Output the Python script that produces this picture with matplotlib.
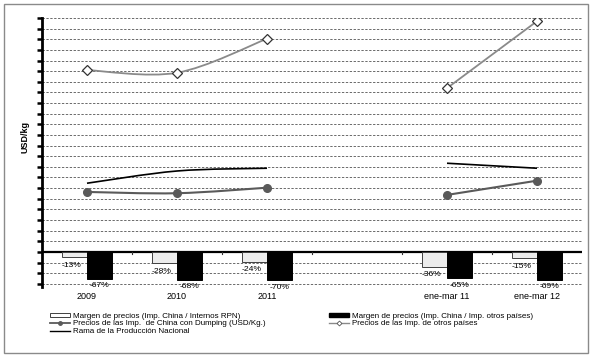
import numpy as np
import matplotlib
matplotlib.use("Agg")
import matplotlib.pyplot as plt
from matplotlib.patches import Patch, Rectangle, PathPatch
from matplotlib.lines import Line2D
from matplotlib.path import Path
from matplotlib import font_manager as fm
import matplotlib.transforms as mtransforms

# ---------------- data ----------------
categories = ["2009", "2010", "2011", "", "ene-mar 11", "ene-mar 12"]
margin_rpn = [-13, -28, -24, np.nan, -36, -15]          # % (Imp. China / Internos RPN)
margin_otros = [-67, -68, -70, np.nan, -65, -69]        # % (Imp. China / Imp. otros países)
precio_china = [5.64, 5.52, 6.04, np.nan, 5.36, 6.70]   # USD/kg
precio_otros = [17.1, 16.85, 20.05, np.nan, 15.4, 21.7] # USD/kg
rama_nacional = [6.46, 7.61, 7.87, np.nan, 8.34, 7.87]  # USD/kg

legend_labels = [
    "Margen de precios (Imp. China / Internos RPN)",
    "Precios de las Imp.  de China con Dumping (USD/Kg.)",
    "Rama de la Producción Nacional",
    "Margen de precios (Imp. China / Imp. otros países)",
    "Precios de las Imp. de otros países",
]

# ---------------- fonts ----------------
def pick(fams):
    for f in fams:
        try:
            fm.findfont(f, fallback_to_default=False)
            return f
        except Exception:
            pass
    return "DejaVu Sans"

FONT = pick(["Liberation Sans Narrow", "Liberation Sans", "Arial"])
plt.rcParams["font.family"] = [FONT, "DejaVu Sans"]

W, H = 592, 356
fig = plt.figure(figsize=(W / 100, H / 100), dpi=100)
fig.patch.set_facecolor("white")

# axes placement (pixels -> fractions)
left_px, right_px, top_px, bot_px = 42, 582, 18, 287
ax = fig.add_axes([left_px / W, 1 - bot_px / H, (right_px - left_px) / W, (bot_px - top_px) / H])
x = np.arange(len(categories))

ylo, yhi = -3.3, 22
ax.set_xlim(-0.5, len(categories) - 0.5)
ax.set_ylim(ylo, yhi)

# grid
for gy in range(-3, 23):
    ax.axhline(gy, color="#6a6a6a", lw=0.7, ls=(0, (2.4, 1.6)), zorder=0)

for s in ["top", "right", "bottom"]:
    ax.spines[s].set_visible(False)
ax.spines["left"].set_linewidth(2.0)
ax.spines["left"].set_color("black")
ax.set_yticks(np.arange(-3, 23))
ax.tick_params(axis="y", direction="out", length=3.8, width=1.8, labelleft=False, color="black")
ax.set_xticks([])

# zero line with boundary ticks
ax.axhline(0, color="black", lw=1.6, zorder=3)
for b in np.arange(-0.5, len(categories), 1.0)[1:-1]:
    ax.plot([b, b], [0, -0.15], color="#333333", lw=0.8, zorder=3)

# category labels
trans = mtransforms.blended_transform_factory(ax.transData, ax.transAxes)
for xi, c in zip(x, categories):
    ax.text(xi, -0.034, c, transform=trans, ha="center", va="center", fontsize=6.5)

# ---------- bars on twin axis (percent) ----------
ax2 = ax.twinx()
k = 26.05
ax2.set_ylim(ylo * k, yhi * k)
ax2.set_axis_off()
bw = 0.283
mr = np.array(margin_rpn, dtype=float)
mo = np.array(margin_otros, dtype=float)
ax2.bar(x - bw / 2, mr, width=bw, color="#ececec", edgecolor="#404040", linewidth=0.7, zorder=2)
ax2.bar(x + bw / 2, mo, width=bw, color="black", edgecolor="black", linewidth=0.7, zorder=2)
for xi, v in zip(x, mr):
    if not np.isnan(v):
        ax2.annotate(f"{v:.0f}%", (xi - bw / 2, v), xytext=(-2, -3.3), textcoords="offset points",
                     ha="center", va="top", fontsize=6.1)
for xi, v in zip(x, mo):
    if not np.isnan(v):
        ax2.annotate(f"{v:.0f}%", (xi + bw / 2, v), xytext=(0, -2.3), textcoords="offset points",
                     ha="center", va="top", fontsize=6.1)

# ---------- lines (smoothed like Excel) ----------
def smooth_segments(xs, ys):
    xs = np.asarray(xs, float); ys = np.asarray(ys, float)
    paths = []
    seg = []
    for xv, yv in zip(xs, ys):
        if np.isnan(yv):
            if seg:
                paths.append(seg); seg = []
        else:
            seg.append((xv, yv))
    if seg:
        paths.append(seg)
    out = []
    for s in paths:
        P = np.array(s)
        if len(P) < 2:
            continue
        verts = [P[0]]
        codes = [Path.MOVETO]
        n = len(P)
        for i in range(n - 1):
            p0 = P[i - 1] if i > 0 else P[i]
            p1 = P[i]; p2 = P[i + 1]
            p3 = P[i + 2] if i + 2 < n else P[i + 1]
            c1 = p1 + (p2 - p0) / 6.0
            c2 = p2 - (p3 - p1) / 6.0
            verts += [c1, c2, p2]
            codes += [Path.CURVE4] * 3
        out.append(Path(verts, codes))
    return out

def draw_series(ys, color, lw, z):
    for p in smooth_segments(x, ys):
        ax.add_patch(PathPatch(p, facecolor="none", edgecolor=color, lw=lw, zorder=z))

draw_series(rama_nacional, "black", 1.2, 4)
draw_series(precio_otros, "#8a8a8a", 1.3, 4)
draw_series(precio_china, "#5a5a5a", 1.5, 4)
ax.plot(x, precio_otros, ls="none", marker="D", ms=4.8, mfc="white", mec="#333333", mew=0.9, zorder=5)
ax.plot(x, precio_china, ls="none", marker="o", ms=5.5, mfc="#5a5a5a", mec="#5a5a5a", zorder=5)

# y label
fig.text(25 / W, 1 - 137 / H, "USD/kg", rotation=90, ha="center", va="center",
         fontsize=6.5, fontweight="bold")

# ---------- legends ----------
h_rpn = Patch(facecolor="white", edgecolor="#404040", linewidth=0.7)
h_china = Line2D([], [], color="#5a5a5a", lw=1.3, marker="o", ms=2.5, mfc="#5a5a5a")
h_rama = Line2D([], [], color="black", lw=1.0)
h_otros_bar = Patch(facecolor="black", edgecolor="black")
h_otros = Line2D([], [], color="#8a8a8a", lw=1.0, marker="D", ms=2.5, mfc="white", mec="#555555", mew=0.6)

common = dict(frameon=False, fontsize=5.8, handlelength=2.5, handleheight=0.45,
              handletextpad=0.3, labelspacing=0.1, borderpad=0, borderaxespad=0)
fig.legend([h_rpn, h_china, h_rama], legend_labels[:3], loc="upper left",
           bbox_to_anchor=(50 / W, 1 - 312.5 / H), **common)
fig.legend([h_otros_bar, h_otros], legend_labels[3:], loc="upper left",
           bbox_to_anchor=(329 / W, 1 - 312.5 / H), **common)

# outer border
fig.add_artist(Rectangle((3.5 / W, 1 - 352.5 / H), (588 - 3.5) / W, (352.5 - 3.5) / H,
                         transform=fig.transFigure, fill=False, edgecolor="#8a8a8a", lw=1.0))

fig.savefig("out.png", dpi=100)
